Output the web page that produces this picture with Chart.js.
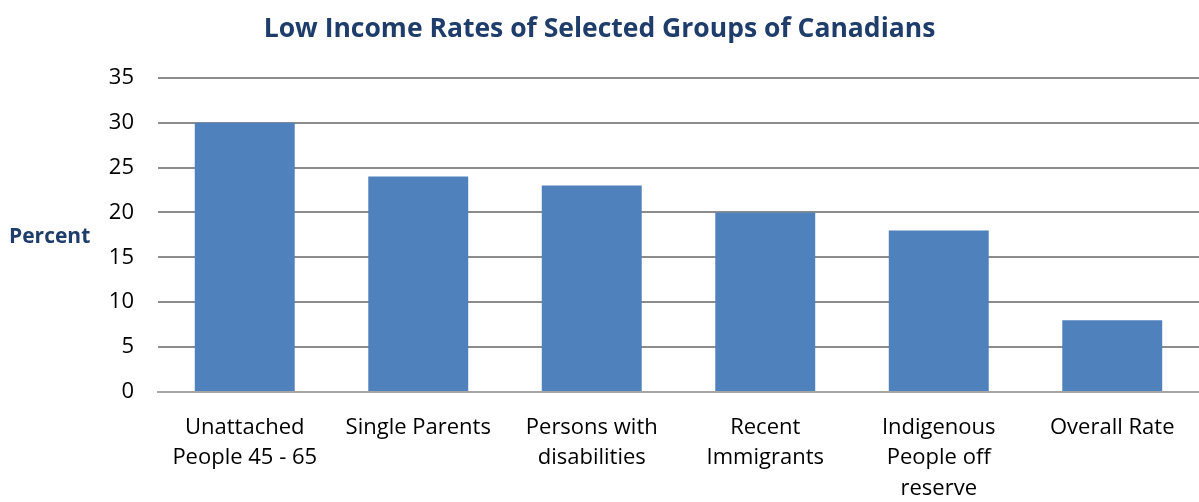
<!DOCTYPE html>
<html>
<head>
<meta charset="utf-8">
<script src="https://cdn.jsdelivr.net/npm/chart.js@4"></script>
<style>
  html, body { margin: 0; padding: 0; background: #fff; }
  #wrap { width: 1199px; height: 502px; }
</style>
</head>
<body>
<div id="wrap"><canvas id="chart"></canvas></div>
<script>
// categories and values
const groups = [
  ["Unattached", "People 45 - 65"],
  ["Single Parents"],
  ["Persons with", "disabilities"],
  ["Recent", "Immigrants"],
  ["Indigenous", "People off", "reserve"],
  ["Overall Rate"]
];
const lowIncomeRates = [30, 24, 23, 20, 18, 8];
const yTicks = [0, 5, 10, 15, 20, 25, 30, 35];

const FONT = "'Open Sans', sans-serif";

// "Percent" label sits horizontally left of the axis
const percentLabel = {
  id: "percentLabel",
  afterDraw(chart) {
    const { ctx, chartArea } = chart;
    ctx.save();
    ctx.font = "bold 21px " + FONT;
    ctx.fillStyle = "#1f3d6b";
    ctx.textAlign = "left";
    ctx.textBaseline = "middle";
    ctx.fillText("Percent", 9, (chartArea.top + chartArea.bottom) / 2 + 2);
    ctx.restore();
  }
};

new Chart(document.getElementById("chart").getContext("2d"), {
  type: "bar",
  data: {
    labels: groups,
    datasets: [{
      data: lowIncomeRates,
      backgroundColor: "#4f81bd",
      borderWidth: 0,
      barPercentage: 0.576,
      categoryPercentage: 1
    }]
  },
  options: {
    responsive: true,
    maintainAspectRatio: false,
    animation: false,
    layout: { padding: { top: 0, right: 0, bottom: 0, left: 0 } },
    scales: {
      x: {
        grid: { display: false, drawTicks: false },
        border: { display: true, color: "#a6a6a6", width: 2 },
        ticks: {
          color: "#000",
          font: { family: FONT, size: 22, lineHeight: 1.4 },
          padding: 20,
          maxRotation: 0,
          autoSkip: false
        },
        afterFit(scale) { scale.height = 110; }
      },
      y: {
        min: 0,
        max: 35,
        afterBuildTicks(scale) { scale.ticks = yTicks.map(v => ({ value: v })); },
        grid: { color: "#8c8c8c", lineWidth: 2, drawTicks: false },
        border: { display: false },
        ticks: {
          color: "#000",
          font: { family: FONT, size: 22 },
          padding: 24
        },
        afterFit(scale) { scale.width = 158; }
      }
    },
    plugins: {
      legend: { display: false },
      tooltip: { enabled: false },
      title: {
        display: true,
        text: "Low Income Rates of Selected Groups of Canadians",
        color: "#1f3d6b",
        font: { family: FONT, size: 26.5, weight: "bold" },
        padding: { top: 14, bottom: 32 }
      }
    }
  },
  plugins: [percentLabel]
});
</script>
</body>
</html>
